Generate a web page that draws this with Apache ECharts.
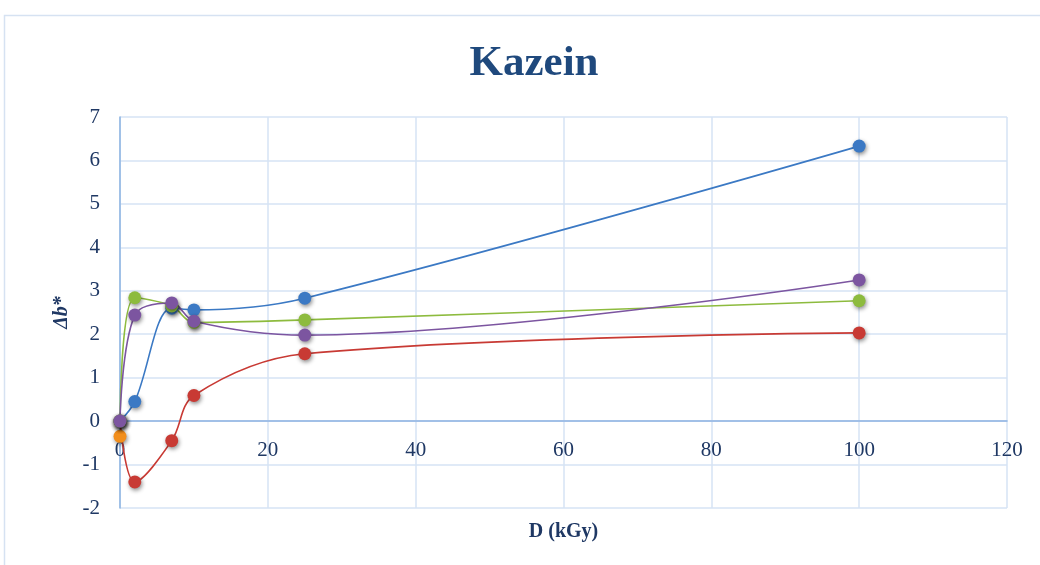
<!DOCTYPE html>
<html><head><meta charset="utf-8">
<script src="https://cdn.jsdelivr.net/npm/echarts@6/dist/echarts.min.js"></script>
<style>html,body{margin:0;padding:0;background:#fff}#c{width:1040px;height:565px}</style>
</head><body><div id="c"></div>
<script>
const doses = [0, 2, 7, 10, 25, 100];
const blueVals = [0, 0.45, 2.6, 2.56, 2.83, 6.33];
const redVals = [0, -1.4, -0.45, 0.59, 1.55, 2.03];
const greenVals = [0, 2.84, 2.65, 2.27, 2.33, 2.77];
const purpleVals = [0, 2.44, 2.72, 2.3, 1.98, 3.25];
const orangeX = [0];
const orangeVals = [-0.35];
const xTicks = [0, 20, 40, 60, 80, 100, 120];
const yTicks = [-2, -1, 0, 1, 2, 3, 4, 5, 6, 7];

const pair = (xs, ys) => xs.map((x, i) => [x, ys[i]]);
const mk = (name, color, xs, ys) => ({
  name, type: 'line', smooth: 0.35, data: pair(xs, ys),
  symbol: 'circle', symbolSize: 13,
  lineStyle: { color, width: 1.6 },
  itemStyle: { color, shadowBlur: 4, shadowColor: 'rgba(0,0,0,0.45)', shadowOffsetX: 1, shadowOffsetY: 2 },
  emphasis: { disabled: true }
});

const chart = echarts.init(document.getElementById('c'), null, { renderer: 'canvas' });
chart.setOption({
  animation: false,
  backgroundColor: '#fff',
  title: {
    text: 'Kazein', left: 529, textAlign: 'center', top: 37,
    textStyle: { fontFamily: 'Liberation Serif', fontWeight: 'bold', fontSize: 43, color: '#1f497d' }
  },
  graphic: [{
    type: 'rect', shape: { x: 4.5, y: 15.5, width: 1100, height: 700 },
    style: { fill: 'none', stroke: '#d6e2f2', lineWidth: 1.5 }, silent: true
  }],
  grid: { left: 120, right: 33, top: 117, bottom: 57, containLabel: false, outerBoundsMode: 'none' },
  xAxis: {
    type: 'value', min: xTicks[0], max: xTicks[xTicks.length - 1], interval: 20,
    name: 'D (kGy)', nameLocation: 'middle', nameGap: 14,
    nameTextStyle: { fontFamily: 'Liberation Serif', fontWeight: 'bold', fontSize: 20, color: '#1f3864', verticalAlign: 'top' },
    axisLine: { onZero: true, lineStyle: { color: '#8db3e2', width: 1.5 } },
    axisTick: { show: false },
    axisLabel: { margin: -68, fontFamily: 'Liberation Serif', fontSize: 21, color: '#1f3864' },
    splitLine: { show: true, lineStyle: { color: '#d6e3f5', width: 1.5 } }
  },
  yAxis: {
    type: 'value', min: yTicks[0], max: yTicks[yTicks.length - 1], interval: 1,
    name: 'Δb*', nameLocation: 'middle', nameGap: 48, nameRotate: 90,
    nameTextStyle: { fontFamily: 'Liberation Serif', fontWeight: 'bold', fontStyle: 'italic', fontSize: 20, color: '#1f3864' },
    axisLine: { show: true, onZero: false, lineStyle: { color: '#8db3e2', width: 1.5 } },
    axisTick: { show: false },
    axisLabel: { margin: 20, fontFamily: 'Liberation Serif', fontSize: 21, color: '#1f3864' },
    splitLine: { show: true, lineStyle: { color: '#d6e3f5', width: 1.5 } }
  },
  series: [
    mk('orange', '#f28e1c', orangeX, orangeVals),
    mk('red', '#c83a34', doses, redVals),
    mk('blue', '#3b79c4', doses, blueVals),
    mk('green', '#8dbb3e', doses, greenVals),
    mk('purple', '#7c55a0', doses, purpleVals)
  ]
});
</script></body></html>
